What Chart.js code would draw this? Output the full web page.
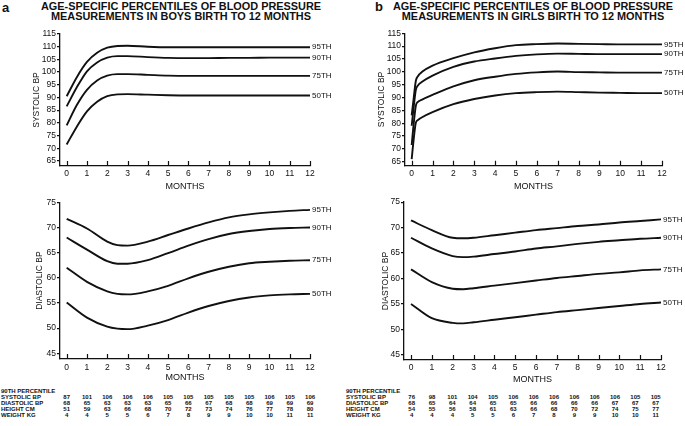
<!DOCTYPE html>
<html>
<head>
<meta charset="utf-8">
<script src="https://cdn.jsdelivr.net/npm/chart.js@4.4.1/dist/chart.umd.min.js"></script>
<style>
  body { margin: 0; background: #fff; }
  #page { position: relative; width: 685px; height: 426px; overflow: hidden; background: #fff;
          font-family: "Liberation Sans", Arial, sans-serif; color: #111; }
  canvas { position: absolute; }
  .tag { position: absolute; font-weight: bold; font-size: 13px; line-height: 13px; }
  .ttl { position: absolute; font-weight: bold; font-size: 10.9px; line-height: 9.6px; text-align: center; white-space: nowrap; }
  .cell { position: absolute; font-weight: bold; font-size: 6px; line-height: 6px; white-space: nowrap; }
  .num { transform: translateX(-50%); }
</style>
</head>
<body>
<div id="page">
  <div class="tag" style="left:2px;top:1px">a</div>
  <div class="ttl" style="left:31px;top:2px;width:300px">AGE-SPECIFIC PERCENTILES OF BLOOD PRESSURE<br>MEASUREMENTS IN BOYS BIRTH TO 12 MONTHS</div>
  <div class="tag" style="left:375px;top:0px">b</div>
  <div class="ttl" style="left:383px;top:2px;width:300px">AGE-SPECIFIC PERCENTILES OF BLOOD PRESSURE<br>MEASUREMENTS IN GIRLS BIRTH TO 12 MONTHS</div>

  <canvas id="boysSys" width="345" height="196" style="left:0;top:0"></canvas>
  <canvas id="girlsSys" width="340" height="196" style="left:345px;top:0"></canvas>
  <canvas id="boysDia" width="345" height="190" style="left:0;top:196px"></canvas>
  <canvas id="girlsDia" width="340" height="190" style="left:345px;top:196px"></canvas>
</div>

<script>
// ---- data ----
const pctLabels = ['95TH', '90TH', '75TH', '50TH'];
const monthTicks = [0, 1, 2, 3, 4, 5, 6, 7, 8, 9, 10, 11, 12];
const sysTicks = [65, 70, 75, 80, 85, 90, 95, 100, 105, 110, 115];
const diaTicks = [45, 50, 55, 60, 65, 70, 75];

// boys systolic
const boysSysMonths = [0, 0.5, 1, 1.5, 2, 2.5, 3, 4, 5, 6, 7, 8, 9, 10, 11, 12];
const boysSys95 = [90.5, 98, 104, 107.6, 109.6, 110.3, 110.4, 110, 109.8, 109.8, 109.8, 109.8, 109.8, 109.8, 109.8, 109.8];
const boysSys90 = [86.5, 94, 100.3, 103.8, 105.7, 106.3, 106.3, 105.9, 105.6, 105.5, 105.5, 105.6, 105.6, 105.7, 105.7, 105.7];
const boysSys75 = [79, 87, 93, 96.7, 98.6, 99.2, 99.2, 98.9, 98.6, 98.5, 98.5, 98.5, 98.5, 98.5, 98.5, 98.5];
const boysSys50 = [71.5, 78.5, 84.5, 88.3, 90.5, 91.2, 91.3, 91.1, 90.9, 90.8, 90.8, 90.8, 90.8, 90.8, 90.8, 90.8];

// girls systolic
const girlsSysMonths = [0, 0.1, 0.2, 0.3, 0.5, 1, 2, 3, 4, 5, 6, 7, 8, 9, 10, 11, 12];
const girlsSys95 = [83, 90, 96.5, 98.3, 100, 102.4, 105.3, 107.6, 109.2, 110.4, 110.8, 111, 110.9, 110.8, 110.7, 110.7, 110.7];
const girlsSys90 = [79, 86.5, 93, 94.7, 96.1, 98.5, 101.9, 104, 105.2, 106.2, 106.8, 107.1, 107, 106.9, 106.9, 106.9, 106.9];
const girlsSys75 = [71.5, 80, 86.8, 88.3, 89.2, 91, 94.3, 96.7, 98.1, 99.2, 99.8, 100.1, 99.9, 99.8, 99.7, 99.7, 99.7];
const girlsSys50 = [66, 74, 80.2, 81.2, 82.3, 84.3, 87.4, 89.4, 90.8, 91.7, 92.1, 92.3, 92.1, 91.9, 91.8, 91.7, 91.7];

// diastolic
const diaMonths = [0, 1, 2, 2.5, 3, 4, 5, 6, 7, 8, 9, 10, 11, 12];
const boysDia95 = [71.7, 69.8, 67.2, 66.5, 66.4, 67.2, 68.5, 69.8, 71, 72, 72.6, 73, 73.3, 73.5];
const boysDia90 = [68, 65.6, 63.3, 62.8, 62.8, 63.5, 64.9, 66.4, 67.7, 68.7, 69.3, 69.7, 69.9, 70];
const boysDia75 = [62, 59.2, 57.3, 56.8, 56.7, 57.3, 58.4, 59.9, 61.2, 62.2, 62.9, 63.2, 63.4, 63.5];
const boysDia50 = [55.1, 52.1, 50.3, 49.9, 49.8, 50.5, 51.6, 53.1, 54.4, 55.4, 56.1, 56.5, 56.7, 56.8];
const girlsDia95 = [71.4, 69.5, 68.0, 67.9, 68.0, 68.5, 69.0, 69.5, 69.9, 70.3, 70.6, 71.0, 71.3, 71.6];
const girlsDia90 = [68.0, 65.9, 64.4, 64.2, 64.3, 64.8, 65.3, 65.9, 66.3, 66.8, 67.2, 67.5, 67.8, 68.0];
const girlsDia75 = [61.8, 59.3, 58.0, 57.9, 58.1, 58.6, 59.1, 59.6, 60.1, 60.5, 60.9, 61.2, 61.6, 61.8];
const girlsDia50 = [55.0, 52.2, 51.3, 51.2, 51.4, 51.9, 52.4, 52.9, 53.4, 53.8, 54.2, 54.6, 55.0, 55.3];

// 90th percentile table
const tableRows = ['90TH PERCENTILE', 'SYSTOLIC BP', 'DIASTOLIC BP', 'HEIGHT CM', 'WEIGHT KG'];
const boysTableSys = [87, 101, 106, 106, 106, 105, 105, 105, 105, 105, 106, 105, 106];
const boysTableDia = [68, 65, 63, 63, 63, 65, 66, 67, 68, 68, 69, 69, 69];
const boysTableHt = [51, 59, 63, 66, 68, 70, 72, 73, 74, 76, 77, 78, 80];
const boysTableWt = [4, 4, 5, 5, 6, 7, 8, 9, 9, 10, 10, 11, 11];
const girlsTableSys = [76, 98, 101, 104, 105, 106, 106, 106, 106, 106, 106, 105, 105];
const girlsTableDia = [68, 65, 64, 64, 65, 65, 66, 66, 66, 66, 67, 67, 67];
const girlsTableHt = [54, 55, 56, 58, 61, 63, 66, 68, 70, 72, 74, 75, 77];
const girlsTableWt = [4, 4, 4, 5, 5, 6, 7, 8, 9, 9, 10, 10, 11];

const ink = '#111';
Chart.defaults.font.family = '"Liberation Sans", Arial, sans-serif';
Chart.defaults.color = ink;

// month ticks on the x axis point up into the plot
const innerTicks = {
  id: 'innerTicks',
  afterDraw(chart) {
    const xs = chart.scales.x, ctx = chart.ctx;
    ctx.save();
    ctx.strokeStyle = ink;
    ctx.lineWidth = 1.2;
    ctx.beginPath();
    xs.ticks.forEach(t => {
      const px = Math.round(xs.getPixelForValue(t.value)) + 0.5;
      ctx.moveTo(px, xs.top);
      ctx.lineTo(px, xs.top - 5);
    });
    ctx.stroke();
    ctx.restore();
  }
};

// percentile name at the end of each curve
const endLabels = {
  id: 'endLabels',
  afterDatasetsDraw(chart) {
    const ctx = chart.ctx;
    ctx.save();
    ctx.font = '8px "Liberation Sans", Arial, sans-serif';
    ctx.fillStyle = ink;
    ctx.textBaseline = 'middle';
    chart.data.datasets.forEach((ds, i) => {
      const pts = chart.getDatasetMeta(i).data;
      const p = pts[pts.length - 1];
      ctx.fillText(ds.label, p.x + 2, p.y);
    });
    ctx.restore();
  }
};

function percentileChart(id, months, series, yTitle, yTicks, geo) {
  const tickFont = { size: 8.5 };
  return new Chart(document.getElementById(id), {
    type: 'line',
    data: {
      datasets: series.map((s, i) => ({
        label: pctLabels[i],
        data: months.map((m, j) => ({ x: m, y: s[j] })),
        borderColor: ink,
        borderWidth: 1.9,
        pointRadius: 0,
        fill: false,
        cubicInterpolationMode: 'monotone'
      }))
    },
    options: {
      responsive: false,
      animation: false,
      layout: { padding: { top: geo.top, right: geo.right, left: 0, bottom: 0 } },
      plugins: { legend: { display: false }, tooltip: { enabled: false } },
      scales: {
        x: {
          type: 'linear',
          min: geo.xMin,
          max: 12,
          afterBuildTicks: s => { s.ticks = monthTicks.map(v => ({ value: v })); },
          afterFit: s => { s.height = geo.xH; },
          grid: { display: false, drawTicks: false },
          border: { color: ink, width: 1.3 },
          ticks: { padding: geo.xPad, font: tickFont, maxRotation: 0, autoSkip: false },
          title: { display: true, text: 'MONTHS', font: { size: 9 }, padding: { top: 0, bottom: geo.tPad } }
        },
        y: {
          min: geo.yMin,
          max: geo.yMax,
          afterBuildTicks: s => { s.ticks = yTicks.map(v => ({ value: v })); },
          afterFit: s => { s.width = geo.yW; },
          grid: { drawOnChartArea: false, tickLength: 3, color: ink, lineWidth: 1.2 },
          border: { color: ink, width: 1.3 },
          ticks: { padding: 1, font: tickFont },
          title: { display: true, text: yTitle, font: { size: 8.5 }, padding: { top: geo.yTPad, bottom: 0 } }
        }
      }
    },
    plugins: [innerTicks, endLabels]
  });
}

percentileChart('boysSys', boysSysMonths, [boysSys95, boysSys90, boysSys75, boysSys50], 'SYSTOLIC BP', sysTicks,
  { top: 34, right: 35, xMin: -0.33, yMin: 63, yMax: 115, yW: 60, xH: 30, xPad: 3, tPad: 3.6, yTPad: 31.6 });
percentileChart('girlsSys', girlsSysMonths, [girlsSys95, girlsSys90, girlsSys75, girlsSys50], 'SYSTOLIC BP', sysTicks,
  { top: 33.3, right: 23, xMin: -0.32, yMin: 63.44, yMax: 115, yW: 60, xH: 30.3, xPad: 3, tPad: 3.9, yTPad: 31.6 });
percentileChart('boysDia', diaMonths, [boysDia95, boysDia90, boysDia75, boysDia50], 'DIASTOLIC BP', diaTicks,
  { top: 6.3, right: 35, xMin: -0.33, yMin: 43.87, yMax: 75, yW: 60, xH: 27, xPad: 3.6, tPad: 2.9, yTPad: 34.9 });
percentileChart('girlsDia', diaMonths, [girlsDia95, girlsDia90, girlsDia75, girlsDia50], 'DIASTOLIC BP', diaTicks,
  { top: 5.7, right: 24, xMin: -0.336, yMin: 44, yMax: 75, yW: 59, xH: 26, xPad: 2.9, tPad: 0.6, yTPad: 35.6 });

// 90th percentile tables under each panel
function buildTable(left, firstCol, step, rows) {
  const page = document.getElementById('page');
  const rowY = [388, 394, 399.5, 405.5, 411.5];
  tableRows.forEach((name, r) => {
    const d = document.createElement('div');
    d.className = 'cell';
    d.style.left = left + 'px';
    d.style.top = rowY[r] + 'px';
    d.textContent = name;
    page.appendChild(d);
    if (r === 0) return;
    rows[r - 1].forEach((v, i) => {
      const c = document.createElement('div');
      c.className = 'cell num';
      c.style.left = (firstCol + step * i) + 'px';
      c.style.top = rowY[r] + 'px';
      c.textContent = v;
      page.appendChild(c);
    });
  });
}
buildTable(1, 66.7, 20.28, [boysTableSys, boysTableDia, boysTableHt, boysTableWt]);
buildTable(346, 411.7, 20.33, [girlsTableSys, girlsTableDia, girlsTableHt, girlsTableWt]);
</script>
</body>
</html>
